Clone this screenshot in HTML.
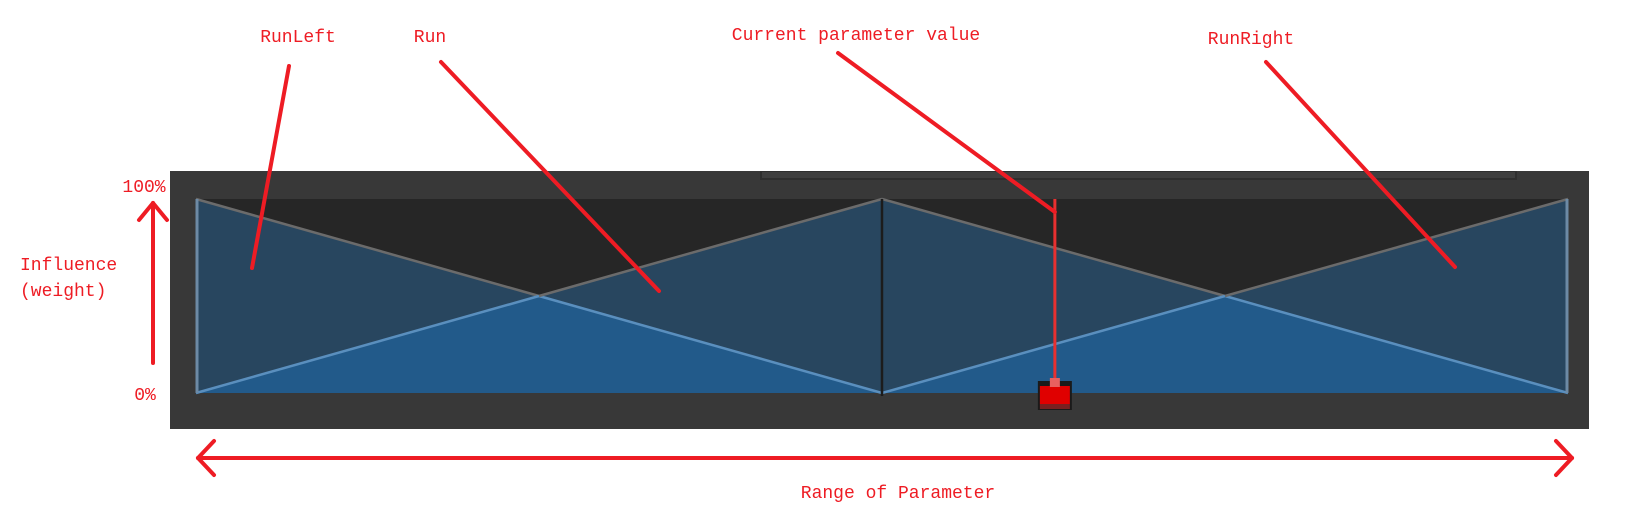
<!DOCTYPE html>
<html><head><meta charset="utf-8"><style>
html,body{margin:0;padding:0;background:#fff;}
svg{display:block;}
text{font-family:"Liberation Mono","Noto Sans CJK SC",monospace;fill:#ee1c24;font-size:18px;}
</style></head><body>
<svg id="chart" width="1635" height="518" viewBox="0 0 1635 518">
<rect x="170" y="171" width="1419" height="258" fill="#383838"/>
<rect x="760" y="171" width="757" height="9" fill="#2e2e2e"/>
<rect x="762" y="172" width="753" height="6" fill="#3e3e3e"/>
<rect x="196" y="199" width="1372" height="194" fill="#262626"/>
<g id="marks"></g>
<g id="annot"></g>
</svg>
<script>
const paramPoints = [0, 0.5, 1];
const seriesNames = ["RunLeft", "Run", "RunRight"];
const runLeftWeights = [1, 0, 0];
const runWeights = [0, 1, 0];
const runRightWeights = [0, 0, 1];
const currentParam = 0.626;
const yTickLabels = ["100%", "0%"];

const X0=196, X1=1568, YTOP=199, YBASE=393;
function xs(v){return X0+(X1-X0)*v;}
function ys(w){return YBASE-(YBASE-YTOP)*w;}
const NS="http://www.w3.org/2000/svg";
const marks=document.getElementById('marks');
function mk(tag,attrs,parent){const e=document.createElementNS(NS,tag);for(const k in attrs)e.setAttribute(k,attrs[k]);(parent||marks).appendChild(e);return e;}

const all=[runLeftWeights,runWeights,runRightWeights];
let samples=[];
for(let i=0;i<paramPoints.length-1;i++){
  const n=40;
  for(let k=0;k<=n;k++){const t=paramPoints[i]+(paramPoints[i+1]-paramPoints[i])*k/n;samples.push([t,i,k/n]);}
}
function val(s,arr){const [t,i,f]=s;return arr[i]+(arr[i+1]-arr[i])*f;}
function envelope(rank){
  let pts=samples.map(s=>{const v=all.map(a=>val(s,a)).sort((a,b)=>b-a);return xs(s[0])+','+ys(v[rank]);});
  return 'M'+xs(0)+','+YBASE+' L'+pts.join(' L')+' L'+xs(1)+','+YBASE+' Z';
}
let p=mk('path',{d:envelope(0),fill:'#28465f'});


p=mk('path',{d:envelope(1),fill:'#225a8a'});



all.forEach((arr,si)=>{
  for(let i=0;i<paramPoints.length-1;i++){
    if(arr[i]===0&&arr[i+1]===0)continue;
    const xa=xs(paramPoints[i]),xb=xs(paramPoints[i+1]),ya=ys(arr[i]),yb=ys(arr[i+1]);
    const xm=(xa+xb)/2,ym=(ya+yb)/2;
    const upA=arr[i]>arr[i+1];
    let l=mk('line',{x1:xa,y1:ya,x2:xm,y2:ym,stroke:upA?'#6b6b6b':'#5a8fbe','stroke-width':2.5});
    
    
    l=mk('line',{x1:xm,y1:ym,x2:xb,y2:yb,stroke:upA?'#5a8fbe':'#6b6b6b','stroke-width':2.5});
    
    
  }
});
let edge=mk('line',{x1:X0+1,y1:YTOP,x2:X0+1,y2:YBASE,stroke:'#6d8aa5','stroke-width':3});


edge=mk('line',{x1:X1-1,y1:YTOP,x2:X1-1,y2:YBASE,stroke:'#6d8aa5','stroke-width':3});


let mid=mk('line',{x1:xs(paramPoints[1]),y1:YTOP,x2:xs(paramPoints[1]),y2:YBASE+3,stroke:'#1c1c1c','stroke-width':2.5});



const cx=xs(currentParam);
let cl=mk('line',{x1:cx,y1:YTOP,x2:cx,y2:388,stroke:'#e83030','stroke-width':3});


let h=mk('rect',{x:cx-17,y:381,width:34,height:29,fill:'#1a1a1a'});


h=mk('rect',{x:cx-15,y:386,width:30,height:18,fill:'#e00000'});


h=mk('rect',{x:cx-5,y:378,width:10,height:9,fill:'#e86060'});


h=mk('rect',{x:cx-15,y:404,width:30,height:5,fill:'#7a2020'});



const an=document.getElementById('annot');
function ln(x1,y1,x2,y2,name){const l=mk('line',{x1,y1,x2,y2,stroke:'#ee1c24','stroke-width':4,'stroke-linecap':'round'},an);

}
function tx(x,y,s,name,anchor){const t=mk('text',{x,y,'text-anchor':anchor||'middle'},an);t.textContent=s;

}
tx(298,42,seriesNames[0],'runleft-label');
tx(430,42,seriesNames[1],'run-label');
tx(856,40,'Current parameter value','current-value-label');
tx(1251,44,seriesNames[2],'runright-label');
ln(289,66,252,268,'runleft-pointer');
ln(441,62,659,291,'run-pointer');
ln(838,53,cx,212,'current-value-pointer');
ln(1266,62,1455,267,'runright-pointer');
tx(144,192,yTickLabels[0],'y-label-100');
tx(145,400,yTickLabels[1],'y-label-0');
tx(20,270,'Influence','y-axis-title','start');
tx(20,296,'(weight)','y-axis-title-2','start');
ln(153,363,153,203,'influence-arrow-shaft');
ln(153,203,139,220,'influence-arrow-head-l');
ln(153,203,167,220,'influence-arrow-head-r');
ln(198,458,1572,458,'range-arrow-shaft');
ln(198,458,214,441,'range-arrow-left-head-a');
ln(198,458,214,475,'range-arrow-left-head-b');
ln(1572,458,1556,441,'range-arrow-right-head-a');
ln(1572,458,1556,475,'range-arrow-right-head-b');
tx(898,498,'Range of Parameter','x-axis-title');
</script>
</body></html>
